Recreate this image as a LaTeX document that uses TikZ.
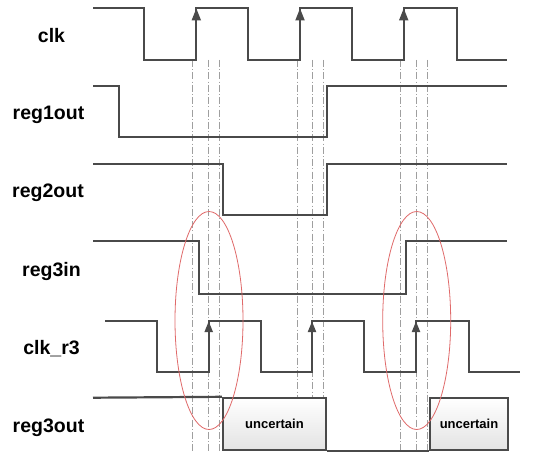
\documentclass[tikz,border=0pt]{standalone}
\usepackage{fontspec}
\setmainfont{Liberation Sans}
\begin{document}
\begin{tikzpicture}[x=1pt,y=-1pt,
  sig/.style={draw=sigc,line width=2.2pt,line join=miter},
  guide/.style={draw=gray!75,line width=0.7pt,dash pattern=on 7pt off 2.2pt on 1pt off 2.2pt},
  ring/.style={draw=ringc,line width=0.8pt},
  lab/.style={anchor=base,font=\bfseries\fontsize{19.5}{22}\selectfont,text=black,inner sep=0pt},
  unc/.style={draw=sigc,line width=1.8pt,top color=white,bottom color=gray!22,
    font=\bfseries\fontsize{13}{15}\selectfont,inner sep=0pt},
  tip/.style={fill=sigc,draw=none}]
\definecolor{sigc}{HTML}{4A4A4A}
\definecolor{ringc}{HTML}{E06A6A}
\useasboundingbox (0,0) rectangle (534,457);
\fill[white] (0,0) rectangle (534,457);
% guide lines
\foreach \gx in {192.3,208,219,297,312.7,323.7,400.7,416.7,427.3}
  \draw[guide] (\gx,60) -- (\gx,452);
% labels
\node[lab] (lclk) at (51.5,42.7) {clk};
\node[lab] (lr1) at (48.5,120) {reg1out};
\node[lab] (lr2) at (48,197.5) {reg2out};
\node[lab] (lr3in) at (51.5,276) {reg3in};
\node[lab] (lclkr3) at (51.5,354) {clk\_r3};
\node[lab] (lr3out) at (48.5,432) {reg3out};
% clk
\draw[sig] (93,8) -- (144.3,8) -- (144.3,60) -- (196.3,60) -- (196.3,8) -- (248,8) -- (248,60)
  -- (300,60) -- (300,8) -- (352.3,8) -- (352.3,60) -- (403.7,60) -- (403.7,8) -- (456.7,8)
  -- (456.7,60) -- (507.3,60);
\foreach \ax in {196.3,300,403.7}
  \fill[tip] (\ax-4.8,20.5) -- (\ax,8.5) -- (\ax+4.8,20.5) -- cycle;
% reg1out
\draw[sig] (93,86) -- (119.3,86) -- (119.3,137) -- (326.7,137) -- (326.7,86) -- (507.3,86);
% reg2out
\draw[sig] (93,163.7) -- (223,163.7) -- (223,215.3) -- (326.7,215.3) -- (326.7,163.7) -- (507.3,163.7);
% reg3in
\draw[sig] (93,241.3) -- (199,241.3) -- (199,294) -- (406.3,294) -- (406.3,241.3) -- (507.3,241.3);
% clk_r3
\draw[sig] (105.3,320.7) -- (157,320.7) -- (157,371.7) -- (208.7,371.7) -- (208.7,320.7)
  -- (260.7,320.7) -- (260.7,371.7) -- (312,371.7) -- (312,320.7) -- (364.3,320.7)
  -- (364.3,371.7) -- (416,371.7) -- (416,320.7) -- (468.7,320.7) -- (468.7,371.7) -- (520,371.7);
\foreach \ax in {208.7,312,416}
  \fill[tip] (\ax-4.3,332) -- (\ax,321.5) -- (\ax+4.3,332) -- cycle;
% reg3out
\node[unc,minimum width=103.6pt,minimum height=52.3pt] (u1) at (274.5,423.85) {uncertain};
\node[unc,minimum width=78pt,minimum height=52.3pt] (u2) at (469,423.85) {uncertain};
\draw[sig] (93,397.7) -- (u1.north west);
\draw[sig] (u1.south east) -- (u2.south west);
% red ellipses
\draw[ring] (209,320.5) ellipse [x radius=34, y radius=109];
\draw[ring] (416.7,320.5) ellipse [x radius=34, y radius=109];
\end{tikzpicture}
\end{document}
